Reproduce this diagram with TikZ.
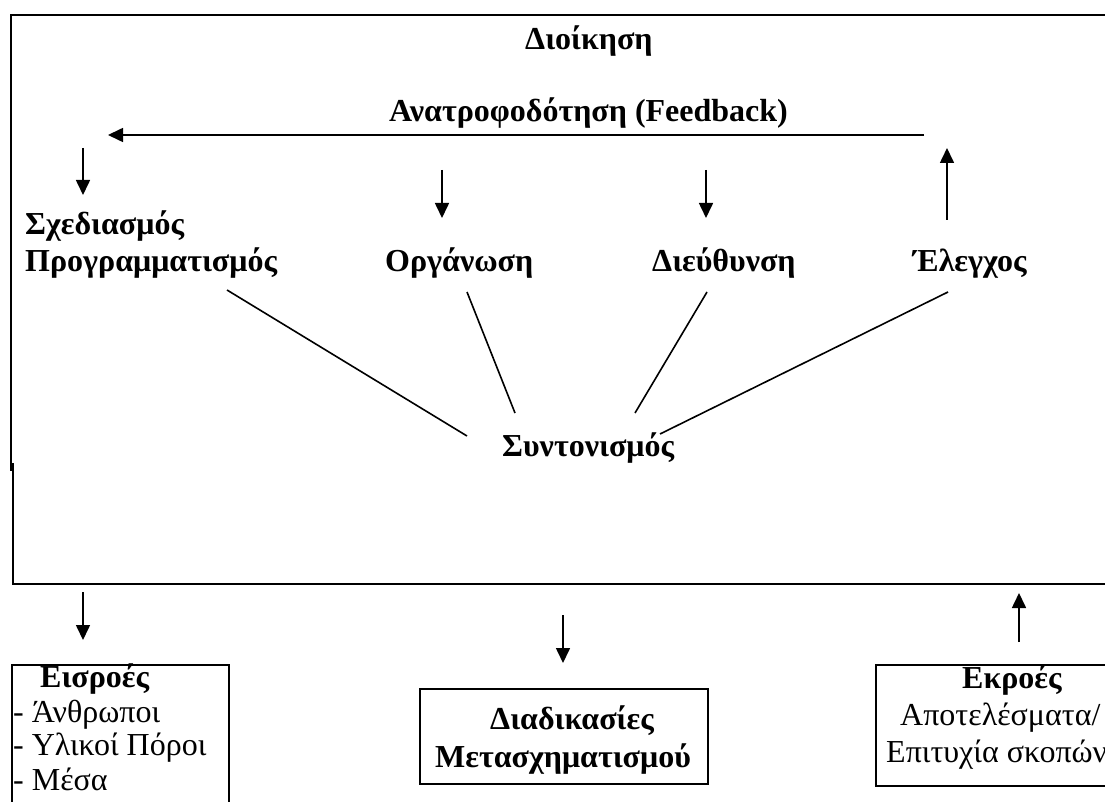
\documentclass[tikz,border=0pt]{standalone}
\usepackage{fontspec}
\setmainfont{Liberation Serif}
\usetikzlibrary{arrows.meta}
\begin{document}
\begin{tikzpicture}[x=1pt,y=-1pt,
  lbl/.style={inner sep=0pt, anchor=base west, font=\fontsize{32}{37}\selectfont},
  blbl/.style={lbl, font=\fontsize{32}{37}\selectfont\bfseries},
  frame/.style={draw=black, line width=1.8pt},
  boxstyle/.style={draw=black, line width=1.6pt, inner sep=0pt, anchor=north west},
  arr/.style={line width=1.6pt, -{Triangle[length=15pt,width=14pt]}},
  link/.style={line width=1.6pt}]
\useasboundingbox (0,0) rectangle (1105,802);
\clip (0,0) rectangle (1105,802);
\fill[white] (0,0) rectangle (1105,802);

% outer frame of the management system (runs off to the right)
\draw[frame] (1115,15) -- (11,15) -- (11,471);
\draw[frame] (13,463) -- (13,584) -- (1115,584);

% headings
\node[blbl] (dioik) at (525,50) {Διοίκηση};
\node[blbl] (feed) at (389,122) {Ανατροφοδότηση (Feedback)};

% management functions
\node[blbl] (sxed) at (25,235) {Σχεδιασμός};
\node[blbl] (progr) at (25,272) {Προγραμματισμός};
\node[blbl] (organ) at (385,272) {Οργάνωση};
\node[blbl] (dieuth) at (652,272) {Διεύθυνση};
\node[blbl] (elegx) at (913,272) {Έλεγχος};
\node[blbl] (synt) at (502,456) {Συντονισμός};

% feedback arrow and function arrows
\coordinate (fbS) at (924,135);
\coordinate (fbE) at (108,135);
\draw[arr] (fbS) -- (fbE);
\coordinate (a1s) at (83,148);  \coordinate (a1e) at (83,195);
\coordinate (a2s) at (442,170); \coordinate (a2e) at (442,218);
\coordinate (a3s) at (706,170); \coordinate (a3e) at (706,218);
\coordinate (a4s) at (947,220); \coordinate (a4e) at (947,148);
\draw[arr] (a1s) -- (a1e);
\draw[arr] (a2s) -- (a2e);
\draw[arr] (a3s) -- (a3e);
\draw[arr] (a4s) -- (a4e);

% links to coordination
\coordinate (l1s) at (227,290); \coordinate (l1e) at (467,436);
\coordinate (l2s) at (467,292); \coordinate (l2e) at (515,413);
\coordinate (l3s) at (707,292); \coordinate (l3e) at (635,413);
\coordinate (l4s) at (948,292); \coordinate (l4e) at (660,434);
\draw[link] (l1s) -- (l1e);
\draw[link] (l2s) -- (l2e);
\draw[link] (l3s) -- (l3e);
\draw[link] (l4s) -- (l4e);

% input / process / output boxes
\node[boxstyle, minimum width=217pt, minimum height=150pt] (inbox) at (11,664) {};
\node[boxstyle, minimum width=288pt, minimum height=95pt] (procbox) at (419,688) {};
\node[boxstyle, minimum width=245pt, minimum height=121pt] (outbox) at (875,664) {};

\node[blbl] (eis) at (40,687) {Εισροές};
\node[lbl] (eis1) at (13,722) {- Άνθρωποι};
\node[lbl] (eis2) at (13,755) {- Υλικοί Πόροι};
\node[lbl] (eis3) at (13,790) {- Μέσα};

\node[blbl] (diad) at (490,729) {Διαδικασίες};
\node[blbl] (metas) at (435,767) {Μετασχηματισμού};

\node[blbl] (ekr) at (962,688) {Εκροές};
\node[lbl] (ekr1) at (900,725) {Αποτελέσματα/};
\node[lbl] (ekr2) at (886,762) {Επιτυχία σκοπών};

% arrows between the frame and the boxes
\coordinate (b1s) at (83,592);   \coordinate (b1e) at (83,640);
\coordinate (b2s) at (563,615);  \coordinate (b2e) at (563,663);
\coordinate (b3s) at (1019,642); \coordinate (b3e) at (1019,593);
\draw[arr] (b1s) -- (b1e);
\draw[arr] (b2s) -- (b2e);
\draw[arr] (b3s) -- (b3e);
\end{tikzpicture}
\end{document}
